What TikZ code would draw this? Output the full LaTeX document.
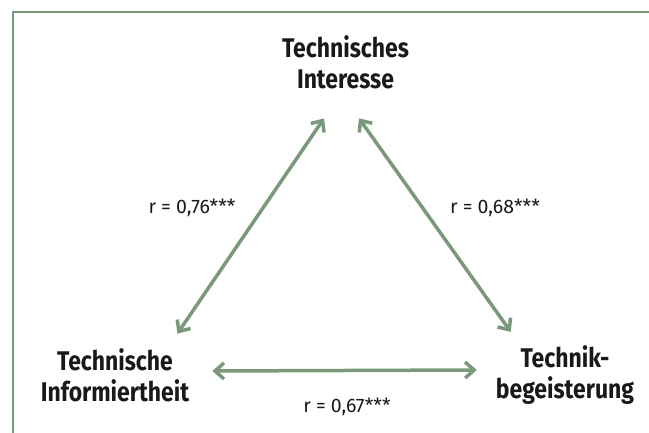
\documentclass[tikz,border=0pt]{standalone}
\usepackage{fontspec}
\setmainfont{Fira Sans}[BoldFeatures={FakeStretch=0.85}]
\usetikzlibrary{arrows.meta}
\definecolor{sage}{RGB}{122,152,122}
\tikzstyle{construct} = [font=\bfseries\fontsize{27}{31}\selectfont, align=center, inner sep=0pt, text=black!90]
\tikzstyle{coef} = [font=\fontsize{19.5}{23}\selectfont, inner sep=0pt, text=black!90]
\tikzstyle{corr} = [line width=3.5pt, draw=sage, {Straight Barb[length=9pt,width=16pt]}-{Straight Barb[length=9pt,width=16pt]}]

\begin{document}
\begin{tikzpicture}[x=1pt, y=-1pt]
\useasboundingbox (0,0) rectangle (649,433);

\draw[sage, line width=1.5pt] (13,433) -- (13,12) -- (649,12);

\node[construct] (interesse) at (345.5,62.5) {Technisches\\Interesse};
\node[construct] (informiert) at (115,375.5) {Technische\\Informiertheit};
\node[construct] (begeisterung) at (565,375.5) {Technik-\\begeisterung};

\draw[corr] ([xshift=-21.5pt,yshift=-29pt]interesse.south) -- ([xshift=-12pt,yshift=15pt]informiert.north east);
\draw[corr] ([xshift=13.5pt,yshift=-29pt]interesse.south) -- ([xshift=15pt,yshift=14pt]begeisterung.north west);
\draw[corr] ([xshift=23pt,yshift=4.5pt]informiert.east) -- ([xshift=-19pt,yshift=5.5pt]begeisterung.west);

\node[coef, anchor=base] (r-ti) at (192,214) {r = 0,76***};
\node[coef, anchor=base] (r-tb) at (495,214) {r = 0,68***};
\node[coef, anchor=base] (r-ib) at (347,413) {r = 0,67***};

\end{tikzpicture}
\end{document}
